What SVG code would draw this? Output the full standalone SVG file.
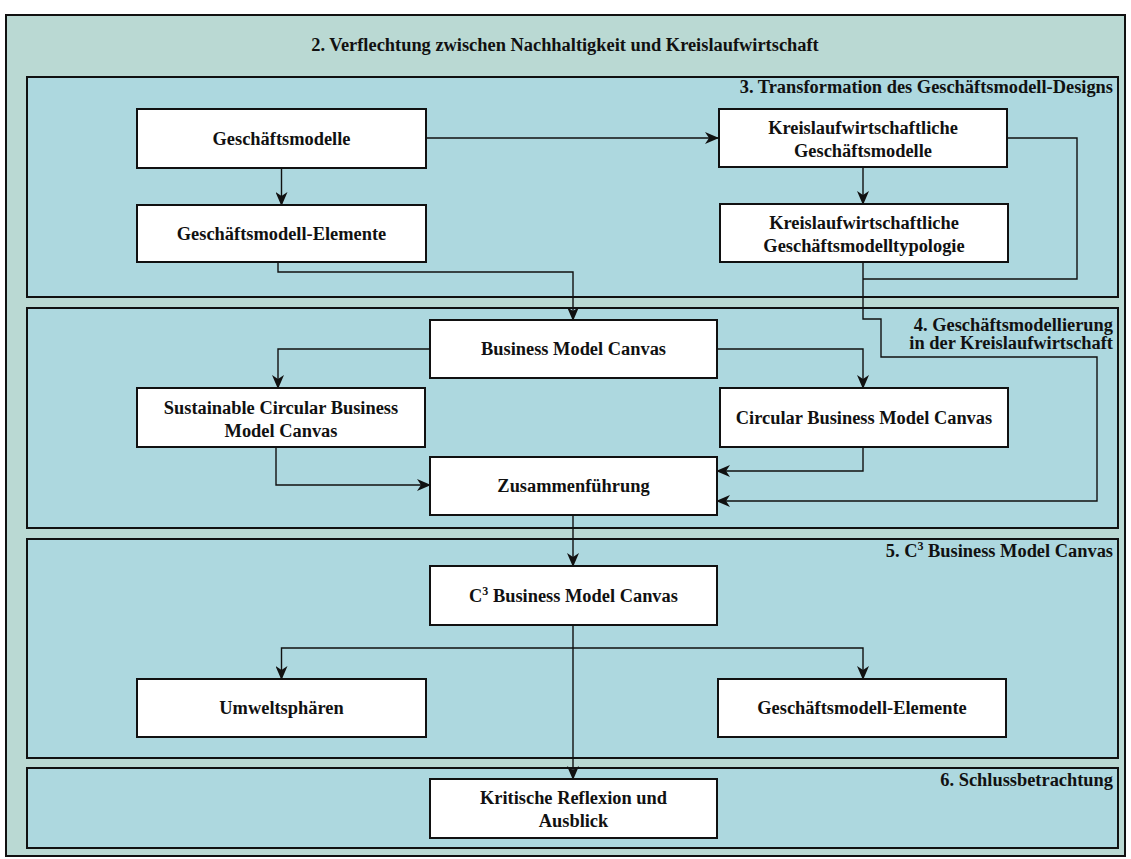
<svg xmlns="http://www.w3.org/2000/svg" width="1131" height="859" viewBox="0 0 1131 859">
<style>
.outer{fill:#bad9d3;stroke:#111;stroke-width:2}
.panel{fill:#add8df;stroke:#111;stroke-width:2}
.node{fill:#fff;stroke:#111;stroke-width:2}
text{font-family:"Liberation Serif","Times New Roman","DejaVu Serif",serif;font-weight:bold;font-size:18.4px;fill:#111}
.c{text-anchor:middle}
.r{text-anchor:end}
.conn{fill:none;stroke:#111;stroke-width:1.4}
</style>
<defs>
<marker id="arr" markerUnits="userSpaceOnUse" markerWidth="14" markerHeight="12" viewBox="0 0 14 12" refX="13" refY="6" orient="auto">
<path d="M0,0 L14,6 L0,12 L4,6 Z" fill="#111"/>
</marker>
</defs>
<g id="background">
<rect class="outer" x="6" y="15" width="1119" height="841"/>
<text class="c" x="565" y="51">2. Verflechtung zwischen Nachhaltigkeit und Kreislaufwirtschaft</text>
</g>
<g id="panel3">
<rect class="panel" x="27" y="77" width="1091" height="220"/>
<text class="r" x="1113" y="93">3. Transformation des Geschäftsmodell-Designs</text>
</g>
<g id="panel4">
<rect class="panel" x="27" y="308" width="1091" height="220"/>
<text class="r" x="1113" y="331">4. Geschäftsmodellierung</text>
<text class="r" x="1113" y="349">in der Kreislaufwirtschaft</text>
</g>
<g id="panel5">
<rect class="panel" x="27" y="539" width="1091" height="219"/>
<text class="r" x="1113" y="557">5. C<tspan font-size="12" dy="-7">3</tspan><tspan dy="7"> Business Model Canvas</tspan></text>
</g>
<g id="panel6">
<rect class="panel" x="27" y="768" width="1091" height="80"/>
<text class="r" x="1113" y="786">6. Schlussbetrachtung</text>
</g>
<g id="connectors">
<path class="conn" d="M281.5,168 V205" marker-end="url(#arr)"/>
<path class="conn" d="M426,138 H718" marker-end="url(#arr)"/>
<path class="conn" d="M863,167 V204" marker-end="url(#arr)"/>
<path class="conn" d="M1007,138 H1077 V279 H863"/>
<path class="conn" d="M863,262 V319 H881 V357 H1097 V501 H717" marker-end="url(#arr)"/>
<path class="conn" d="M278,262 V272 H573 V320" marker-end="url(#arr)"/>
<path class="conn" d="M430,349 H278 V388" marker-end="url(#arr)"/>
<path class="conn" d="M716,349 H863 V388" marker-end="url(#arr)"/>
<path class="conn" d="M276,447 V485 H430" marker-end="url(#arr)"/>
<path class="conn" d="M863,447 V471 H717" marker-end="url(#arr)"/>
<path class="conn" d="M573,515 V566" marker-end="url(#arr)"/>
<path class="conn" d="M573,625 V779" marker-end="url(#arr)"/>
<path class="conn" d="M573,648 H281.5 V679" marker-end="url(#arr)"/>
<path class="conn" d="M573,648 H863 V679" marker-end="url(#arr)"/>
</g>
<g id="n-geschaeftsmodelle">
<rect class="node" x="137" y="109" width="289" height="59"/>
<text class="c" x="281.5" y="145">Geschäftsmodelle</text>
</g>
<g id="n-gm-elemente">
<rect class="node" x="137" y="205" width="289" height="57"/>
<text class="c" x="281.5" y="240">Geschäftsmodell-Elemente</text>
</g>
<g id="n-kw-gm">
<rect class="node" x="719" y="109" width="288" height="58"/>
<text class="c" x="863" y="134">Kreislaufwirtschaftliche</text>
<text class="c" x="863" y="157">Geschäftsmodelle</text>
</g>
<g id="n-kw-typologie">
<rect class="node" x="720" y="204" width="288" height="58"/>
<text class="c" x="864" y="229">Kreislaufwirtschaftliche</text>
<text class="c" x="864" y="252">Geschäftsmodelltypologie</text>
</g>
<g id="n-bmc">
<rect class="node" x="430" y="320" width="287" height="58"/>
<text class="c" x="573.5" y="355">Business Model Canvas</text>
</g>
<g id="n-scbmc">
<rect class="node" x="137" y="388" width="288" height="59"/>
<text class="c" x="281" y="414">Sustainable Circular Business</text>
<text class="c" x="281" y="437">Model Canvas</text>
</g>
<g id="n-cbmc">
<rect class="node" x="720" y="388" width="288" height="59"/>
<text class="c" x="864" y="424">Circular Business Model Canvas</text>
</g>
<g id="n-zusammen">
<rect class="node" x="430" y="457" width="287" height="58"/>
<text class="c" x="573.5" y="492">Zusammenführung</text>
</g>
<g id="n-c3bmc">
<rect class="node" x="430" y="566" width="287" height="59"/>
<text class="c" x="573.5" y="602">C<tspan font-size="12" dy="-7">3</tspan><tspan dy="7"> Business Model Canvas</tspan></text>
</g>
<g id="n-umwelt">
<rect class="node" x="137" y="679" width="289" height="58"/>
<text class="c" x="281.5" y="714">Umweltsphären</text>
</g>
<g id="n-gm-elemente2">
<rect class="node" x="718" y="679" width="288" height="58"/>
<text class="c" x="862" y="714">Geschäftsmodell-Elemente</text>
</g>
<g id="n-kritisch">
<rect class="node" x="430" y="779" width="287" height="59"/>
<text class="c" x="573.5" y="804">Kritische Reflexion und</text>
<text class="c" x="573.5" y="827">Ausblick</text>
</g>
</svg>
